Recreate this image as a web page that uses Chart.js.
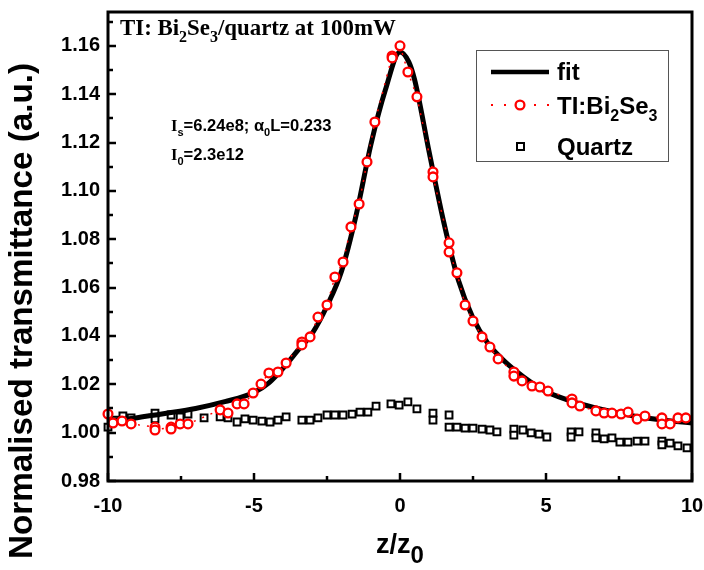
<!DOCTYPE html>
<html>
<head>
<meta charset="utf-8">
<script src="https://cdn.jsdelivr.net/npm/chart.js@4.4.1/dist/chart.umd.min.js"></script>
<style>
  body { margin: 0; background: #fff; }
  canvas { display: block; }
</style>
</head>
<body>
<canvas id="zscan" width="704" height="570"></canvas>
<script>
// fit curve
const fitZ = [-10, -9, -8, -7, -6, -5, -4.5, -4, -3.5, -3, -2.5, -2, -1.5, -1, -0.5, 0, 0.3, 0.5, 1, 1.5, 2, 2.5, 3, 3.5, 4, 4.5, 5, 6, 7, 8, 9, 10];
const fitT = [1.0048, 1.0062, 1.0080, 1.0100, 1.0128, 1.0166, 1.0205, 1.0267, 1.0340, 1.0412, 1.0524, 1.0669, 1.0901, 1.1190, 1.1418, 1.1575, 1.1534, 1.1460, 1.1160, 1.0870, 1.0630, 1.0474, 1.0371, 1.0305, 1.0252, 1.0207, 1.0170, 1.0125, 1.0094, 1.0069, 1.0052, 1.0040];

// TI:Bi2Se3 open circles
const tiZ = [-10, -9.83, -9.52, -9.21, -8.39, -8.39, -7.84, -7.84, -7.53, -7.26, -6.16, -5.89, -5.58, -5.34, -5.03, -4.76, -4.49, -4.18, -3.90, -3.36, -3.36, -3.08, -2.81, -2.50, -2.23, -1.95, -1.68, -1.40, -1.13, -0.86, -0.27, -0.27, 0, 0.27, 0.58, 1.13, 1.13, 1.68, 1.68, 1.95, 2.23, 2.50, 2.81, 3.08, 3.36, 3.90, 3.90, 4.18, 4.52, 4.79, 5.07, 5.89, 5.89, 6.16, 6.71, 6.99, 7.26, 7.57, 7.81, 8.12, 8.39, 8.97, 8.97, 9.25, 9.52, 9.79];
const tiT = [1.0077, 1.0040, 1.0048, 1.0036, 1.0023, 1.0011, 1.0023, 1.0015, 1.0036, 1.0036, 1.0094, 1.0081, 1.0119, 1.0119, 1.0164, 1.0201, 1.0247, 1.0251, 1.0288, 1.0375, 1.0363, 1.0396, 1.0478, 1.0528, 1.0644, 1.0706, 1.0851, 1.0946, 1.1120, 1.1285, 1.1558, 1.1550, 1.1600, 1.1492, 1.1389, 1.1078, 1.1058, 1.0785, 1.0747, 1.0661, 1.0528, 1.0462, 1.0396, 1.0354, 1.0305, 1.0251, 1.0234, 1.0214, 1.0193, 1.0189, 1.0172, 1.0139, 1.0123, 1.0110, 1.0090, 1.0081, 1.0081, 1.0077, 1.0085, 1.0056, 1.0069, 1.0061, 1.0036, 1.0036, 1.0061, 1.0061];

// Quartz open squares
const qzZ = [-10, -9.76, -9.49, -9.21, -8.39, -8.39, -7.84, -7.53, -7.26, -6.71, -6.16, -5.89, -5.58, -5.31, -5.03, -4.73, -4.45, -4.18, -3.90, -3.36, -3.08, -2.81, -2.50, -2.23, -1.95, -1.64, -1.37, -1.10, -0.82, -0.31, -0.03, 0.27, 0.58, 1.13, 1.13, 1.68, 1.68, 1.95, 2.23, 2.50, 2.81, 3.08, 3.32, 3.90, 3.90, 4.21, 4.49, 4.76, 5.03, 5.86, 5.86, 6.13, 6.71, 6.71, 6.99, 7.26, 7.53, 7.81, 8.12, 8.39, 8.97, 8.97, 9.25, 9.52, 9.83];
const qzT = [1.0023, 1.0052, 1.0069, 1.0061, 1.0081, 1.0057, 1.0073, 1.0065, 1.0077, 1.0061, 1.0065, 1.0061, 1.0044, 1.0057, 1.0052, 1.0048, 1.0044, 1.0052, 1.0065, 1.0052, 1.0052, 1.0061, 1.0073, 1.0073, 1.0073, 1.0077, 1.0085, 1.0085, 1.0110, 1.0119, 1.0114, 1.0127, 1.0098, 1.0081, 1.0052, 1.0073, 1.0023, 1.0023, 1.0019, 1.0019, 1.0015, 1.0011, 1.0003, 1.0015, 0.9990, 1.0011, 0.9999, 0.9994, 0.9982, 1.0003, 0.9982, 1.0003, 0.9999, 0.9978, 0.9974, 0.9978, 0.9961, 0.9961, 0.9965, 0.9965, 0.9965, 0.9949, 0.9957, 0.9945, 0.9937];

const xTicks = [-10, -5, 0, 5, 10];
const yTicks = [0.98, 1.00, 1.02, 1.04, 1.06, 1.08, 1.10, 1.12, 1.14, 1.16];

const pts = (xs, ys) => xs.map((x, i) => ({ x: x, y: ys[i] }));
const SANS = '"Liberation Sans", Arial, sans-serif';
const SERIF = '"Liberation Serif", "Times New Roman", serif';

// text with subscripts: parts are strings or {sub:'..'} or {t:'..', serif:true}
function richWidth(ctx, parts, size, fam) {
  let w = 0;
  parts.forEach(p => {
    if (typeof p === 'string') { ctx.font = 'bold ' + size + 'px ' + fam; w += ctx.measureText(p).width; }
    else if (p.sub) { ctx.font = 'bold ' + Math.round(size * 0.68) + 'px ' + fam; w += ctx.measureText(p.sub).width; }
    else { ctx.font = 'bold ' + size + 'px ' + (p.serif ? SERIF : fam); w += ctx.measureText(p.t).width; }
  });
  return w;
}
function drawRich(ctx, x, y, parts, size, fam) {
  ctx.textBaseline = 'alphabetic';
  ctx.textAlign = 'left';
  parts.forEach(p => {
    if (typeof p === 'string') {
      ctx.font = 'bold ' + size + 'px ' + fam;
      ctx.fillText(p, x, y); x += ctx.measureText(p).width;
    } else if (p.sub) {
      ctx.font = 'bold ' + Math.round(size * 0.68) + 'px ' + fam;
      ctx.fillText(p.sub, x, y + size * 0.3); x += ctx.measureText(p.sub).width;
    } else {
      ctx.font = 'bold ' + size + 'px ' + (p.serif ? SERIF : fam);
      ctx.fillText(p.t, x, y); x += ctx.measureText(p.t).width;
    }
  });
}
function fitSize(ctx, parts, fam, target, guess) {
  const w = richWidth(ctx, parts, guess, fam);
  return guess * target / w;
}

const decoPlugin = {
  id: 'deco',
  afterDraw(chart) {
    const ctx = chart.ctx;
    const a = chart.chartArea;
    const xs = chart.scales.x, ys = chart.scales.y;
    ctx.save();
    ctx.fillStyle = '#000';
    ctx.strokeStyle = '#000';

    // inward ticks
    ctx.lineWidth = 2.5;
    ctx.beginPath();
    for (let v = -10; v <= 10.001; v += 2.5) {
      const px = Math.round(xs.getPixelForValue(v));
      const len = (Math.abs(v % 5) < 0.01) ? 8 : 5;
      ctx.moveTo(px, a.bottom); ctx.lineTo(px, a.bottom - len);
    }
    for (let v = 0.98; v <= 1.1701; v += 0.01) {
      const py = Math.round(ys.getPixelForValue(v));
      const major = Math.abs(Math.round(v * 100) % 2) === 0;
      const len = major ? 8 : 5;
      ctx.moveTo(a.left, py); ctx.lineTo(a.left + len, py);
    }
    ctx.stroke();

    // frame
    ctx.lineWidth = 3;
    ctx.strokeRect(a.left, a.top, a.right - a.left, a.bottom - a.top);

    // title inside the plot
    const tParts = ['TI: Bi', { sub: '2' }, 'Se', { sub: '3' }, '/quartz at 100mW'];
    const tSize = fitSize(ctx, tParts, SERIF, 276, 20);
    drawRich(ctx, 120, 35, tParts, tSize, SERIF);

    // fit parameters
    const l1 = [{ t: 'I', serif: true }, { sub: 's' }, '=6.24e8; \u03b1', { sub: '0' }, 'L=0.233'];
    const l2 = [{ t: 'I', serif: true }, { sub: '0' }, '=2.3e12'];
    const aSize = fitSize(ctx, l1, SANS, 161, 16);
    drawRich(ctx, 171, 131, l1, aSize, SANS);
    drawRich(ctx, 171, 160, l2, aSize, SANS);

    // legend
    ctx.lineWidth = 1;
    ctx.strokeStyle = '#555';
    ctx.strokeRect(476.5, 50.5, 192, 111);
    ctx.strokeStyle = '#000';
    ctx.lineWidth = 4.5;
    ctx.beginPath(); ctx.moveTo(491, 72); ctx.lineTo(549, 72); ctx.stroke();
    ctx.fillStyle = 'red';
    [492, 505, 535, 548].forEach(dx => ctx.fillRect(dx - 1, 104, 2, 2));
    ctx.strokeStyle = 'red'; ctx.lineWidth = 2.3;
    ctx.beginPath(); ctx.arc(520, 105, 4.4, 0, Math.PI * 2);
    ctx.fillStyle = '#fff'; ctx.fill(); ctx.stroke();
    ctx.strokeStyle = '#000'; ctx.lineWidth = 2;
    ctx.fillStyle = '#fff';
    ctx.fillRect(517, 143, 7, 7); ctx.strokeRect(517, 143, 7, 7);
    ctx.fillStyle = '#000';
    drawRich(ctx, 557, 80, ['fit'], 24, SANS);
    drawRich(ctx, 557, 114, ['TI:Bi', { sub: '2' }, 'Se', { sub: '3' }], 24, SANS);
    drawRich(ctx, 557, 155, ['Quartz'], 24, SANS);

    // axis titles
    const yt = 'Normalised transmittance (a.u.)';
    ctx.save();
    ctx.translate(32, 311);
    ctx.rotate(-Math.PI / 2);
    const ySize = fitSize(ctx, [yt], SANS, 496, 24);
    ctx.font = 'bold ' + ySize + 'px ' + SANS;
    ctx.textAlign = 'center';
    ctx.textBaseline = 'alphabetic';
    ctx.fillText(yt, 0, 0);
    ctx.restore();

    ctx.font = 'bold 27px ' + SANS;
    ctx.textAlign = 'left';
    ctx.textBaseline = 'alphabetic';
    const zw = ctx.measureText('z/z').width;
    ctx.fillText('z/z', 376, 553);
    ctx.font = 'bold 24px ' + SANS;
    ctx.fillText('0', 376 + zw, 563);
    ctx.restore();
  }
};

new Chart(document.getElementById('zscan'), {
  type: 'scatter',
  data: {
    datasets: [
      {
        label: 'TI:Bi2Se3',
        data: pts(tiZ, tiT),
        showLine: true,
        borderColor: 'red',
        borderWidth: 1.5,
        borderDash: [2, 7],
        pointRadius: 4.4,
        pointBorderWidth: 2.3,
        pointBorderColor: 'red',
        pointBackgroundColor: '#fff',
        order: 0,
        clip: 8
      },
      {
        label: 'fit',
        data: pts(fitZ, fitT),
        showLine: true,
        borderColor: '#000',
        borderWidth: 5,
        pointRadius: 0,
        cubicInterpolationMode: 'monotone',
        order: 1
      },
      {
        label: 'Quartz',
        data: pts(qzZ, qzT),
        showLine: false,
        pointStyle: 'rect',
        pointRadius: 4.8,
        pointBorderWidth: 2,
        pointBorderColor: '#000',
        pointBackgroundColor: '#fff',
        order: 2,
        clip: 8
      }
    ]
  },
  options: {
    responsive: false,
    animation: false,
    devicePixelRatio: 1,
    layout: { padding: { top: 12, right: 12, left: 0, bottom: 0 } },
    plugins: {
      legend: { display: false },
      tooltip: { enabled: false },
      title: { display: false }
    },
    scales: {
      x: {
        type: 'linear',
        min: -10,
        max: 10,
        afterBuildTicks: s => { s.ticks = xTicks.map(v => ({ value: v })); },
        afterFit: s => { s.height = 89; s.paddingLeft = 0; s.paddingRight = 0; },
        grid: { display: false, drawTicks: false },
        border: { display: false },
        ticks: {
          padding: 13,
          color: '#000',
          font: { family: SANS, size: 20, weight: 'bold' },
          callback: v => String(v)
        }
      },
      y: {
        type: 'linear',
        min: 0.98,
        max: 1.174,
        afterBuildTicks: s => { s.ticks = yTicks.map(v => ({ value: v })); },
        afterFit: s => { s.width = 108; s.paddingTop = 0; s.paddingBottom = 0; },
        grid: { display: false, drawTicks: false },
        border: { display: false },
        ticks: {
          padding: 8,
          color: '#000',
          font: { family: SANS, size: 20, weight: 'bold' },
          callback: v => v.toFixed(2)
        }
      }
    }
  },
  plugins: [decoPlugin]
});
</script>
</body>
</html>
